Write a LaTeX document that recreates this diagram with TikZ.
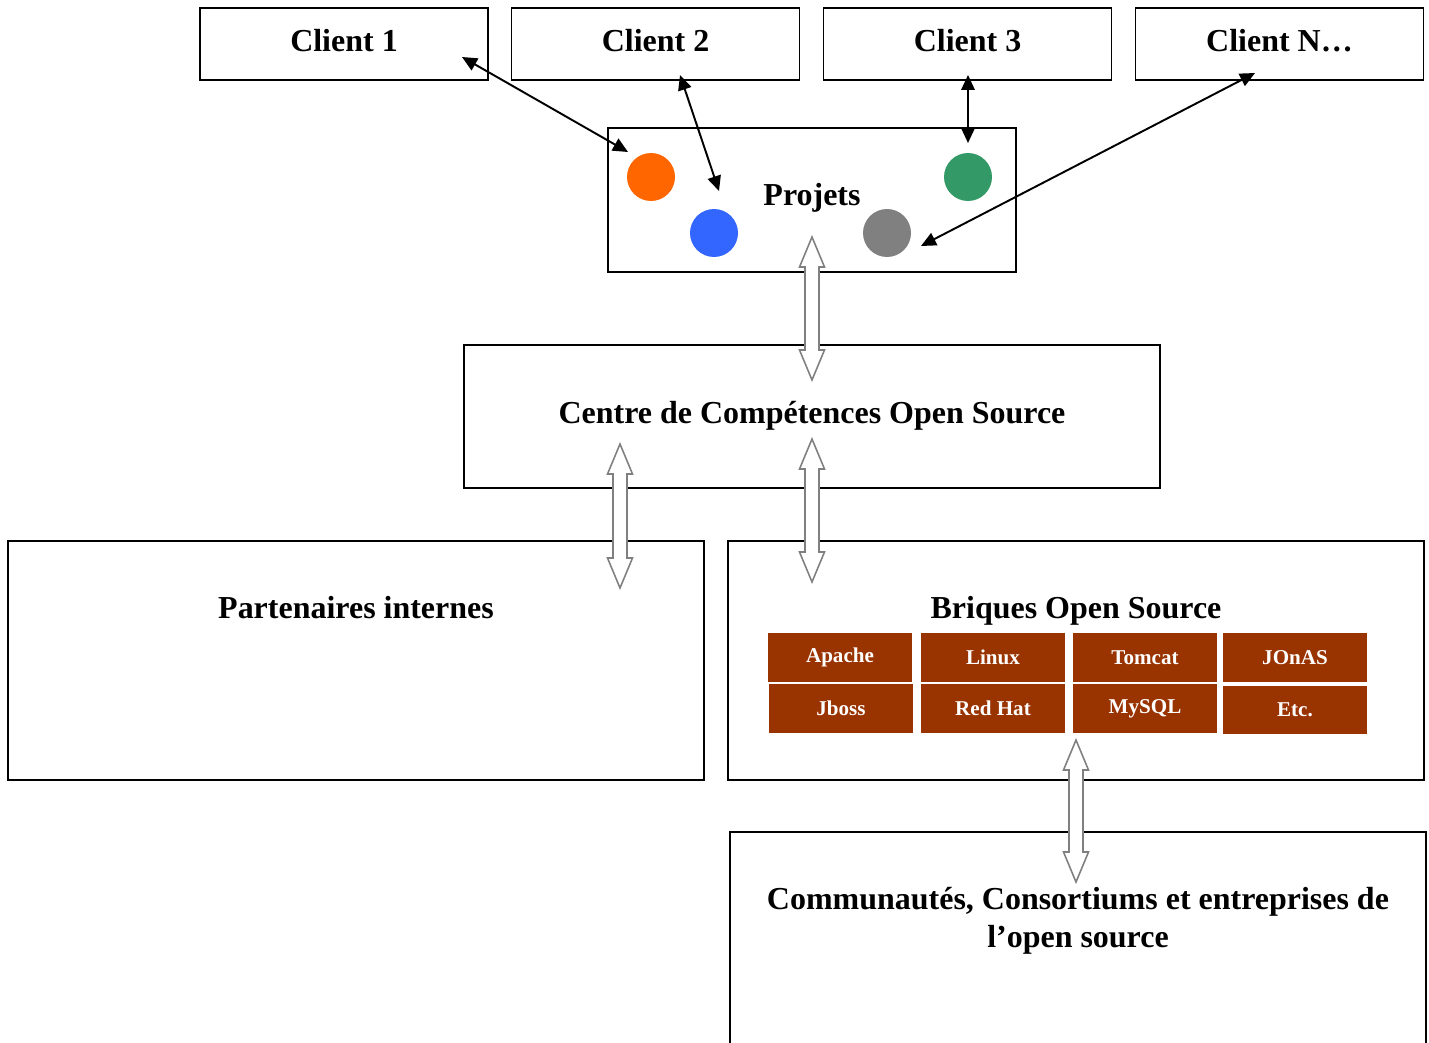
\documentclass[tikz,border=0pt]{standalone}
\usepackage{fontspec}
\setmainfont{Liberation Serif}
\usetikzlibrary{arrows.meta}
\definecolor{dotorange}{HTML}{FF6600}
\definecolor{dotblue}{HTML}{3366FF}
\definecolor{dotgreen}{HTML}{339966}
\definecolor{dotgray}{HTML}{808080}
\definecolor{brique}{HTML}{993300}
\tikzset{
	box/.style={draw,line width=0.9pt,rectangle,inner sep=0pt},
	bigtext/.style={font=\fontsize{18.2}{21.5}\selectfont\bfseries},
	clientbox/.style={box,bigtext,minimum width=5.76cm,minimum height=1.44cm,text depth=0.15cm},
	dot/.style={circle,fill=#1,minimum size=0.96cm,inner sep=0pt},
	tile/.style={fill=brique,text=white,minimum width=2.88cm,minimum height=0.98cm,inner sep=0pt,font=\fontsize{12}{14}\selectfont\bfseries},
	link/.style={line width=1.1pt,{Triangle[length=0.3cm,width=0.27cm]}-{Triangle[length=0.3cm,width=0.27cm]}},
	hollow/.style={draw=dotgray,fill=white,line width=0.9pt,line join=miter}
}
% vertical hollow double arrow: x, top, bottom
\newcommand{\hollowarrow}[3]{%
	\draw[hollow](#1,#2)--(#1+12.5,#2+30)--(#1+7,#2+30)--(#1+7,#3-30)--(#1+12.5,#3-30)--(#1,#3)
	--(#1-12.5,#3-30)--(#1-7,#3-30)--(#1-7,#2+30)--(#1-12.5,#2+30)--cycle;}
\begin{document}
\begin{tikzpicture}[x=0.02cm,y=-0.02cm]
\useasboundingbox (0,0) rectangle (1429,1043);

	\node[clientbox](client1) at (344,44){Client 1};
	\node[clientbox](client2) at (655.5,44){Client 2};
	\node[clientbox](client3) at (967.5,44){Client 3};
	\node[clientbox](clientN) at (1279.5,44){Client N\ldots};

	\node[box,minimum width=8.16cm,minimum height=2.88cm](projets) at (812,200){};
	\node[bigtext](projetslabel) at (812,198){Projets};
	\node[dot=dotorange](dot1) at (651,177){};
	\node[dot=dotblue](dot2) at (714,233){};
	\node[dot=dotgreen](dot3) at (968,177){};
	\node[dot=dotgray](dot4) at (887,233){};

\coordinate(c1a) at (462,57); \coordinate(c1b) at (628,152);
\coordinate(c2a) at (680,75); \coordinate(c2b) at (719,191);
\coordinate(c3a) at (968,75); \coordinate(c3b) at (968,143);
\coordinate(cNa) at (1255,73); \coordinate(cNb) at (921,246);
\draw[link](c1a)--(c1b);
\draw[link](c2a)--(c2b);
\draw[link](c3a)--(c3b);
\draw[link](cNa)--(cNb);

	\node[box,minimum width=13.92cm,minimum height=2.86cm](centre) at (812,416.5){};
	\node[bigtext](centrelabel) at (812,416){Centre de Compétences Open Source};

	\node[box,minimum width=13.92cm,minimum height=4.78cm](partenaires) at (356,660.5){};
	\node[bigtext](partenaireslabel) at (356,608){Partenaires internes};

	\node[box,minimum width=13.92cm,minimum height=4.78cm](briques) at (1076,660.5){};
	\node[bigtext](briqueslabel) at (1076,611){Briques Open Source};

\foreach \name/\x/\y in {Apache/840/657.5,Linux/993/657.5,Tomcat/1145/657.5,JOnAS/1295/657.5,
	Jboss/841/708.5,Red Hat/993/708.5,MySQL/1145/708.5,Etc./1295/710}
	\node[tile](tile-\x-\y) at (\x,\y){\name};

	\node[box,minimum width=13.92cm,minimum height=4.56cm](communautes) at (1078,946){};
	\node[bigtext,align=center](communauteslabel) at (1078,921){Communautés, Consortiums et entreprises de\\l’open source};

%% hollow arrows between the blocks
\hollowarrow{812}{237}{380}
\hollowarrow{620}{444}{588}
\hollowarrow{812}{439}{582}
\hollowarrow{1076}{740}{882}
\end{tikzpicture}
\end{document}
